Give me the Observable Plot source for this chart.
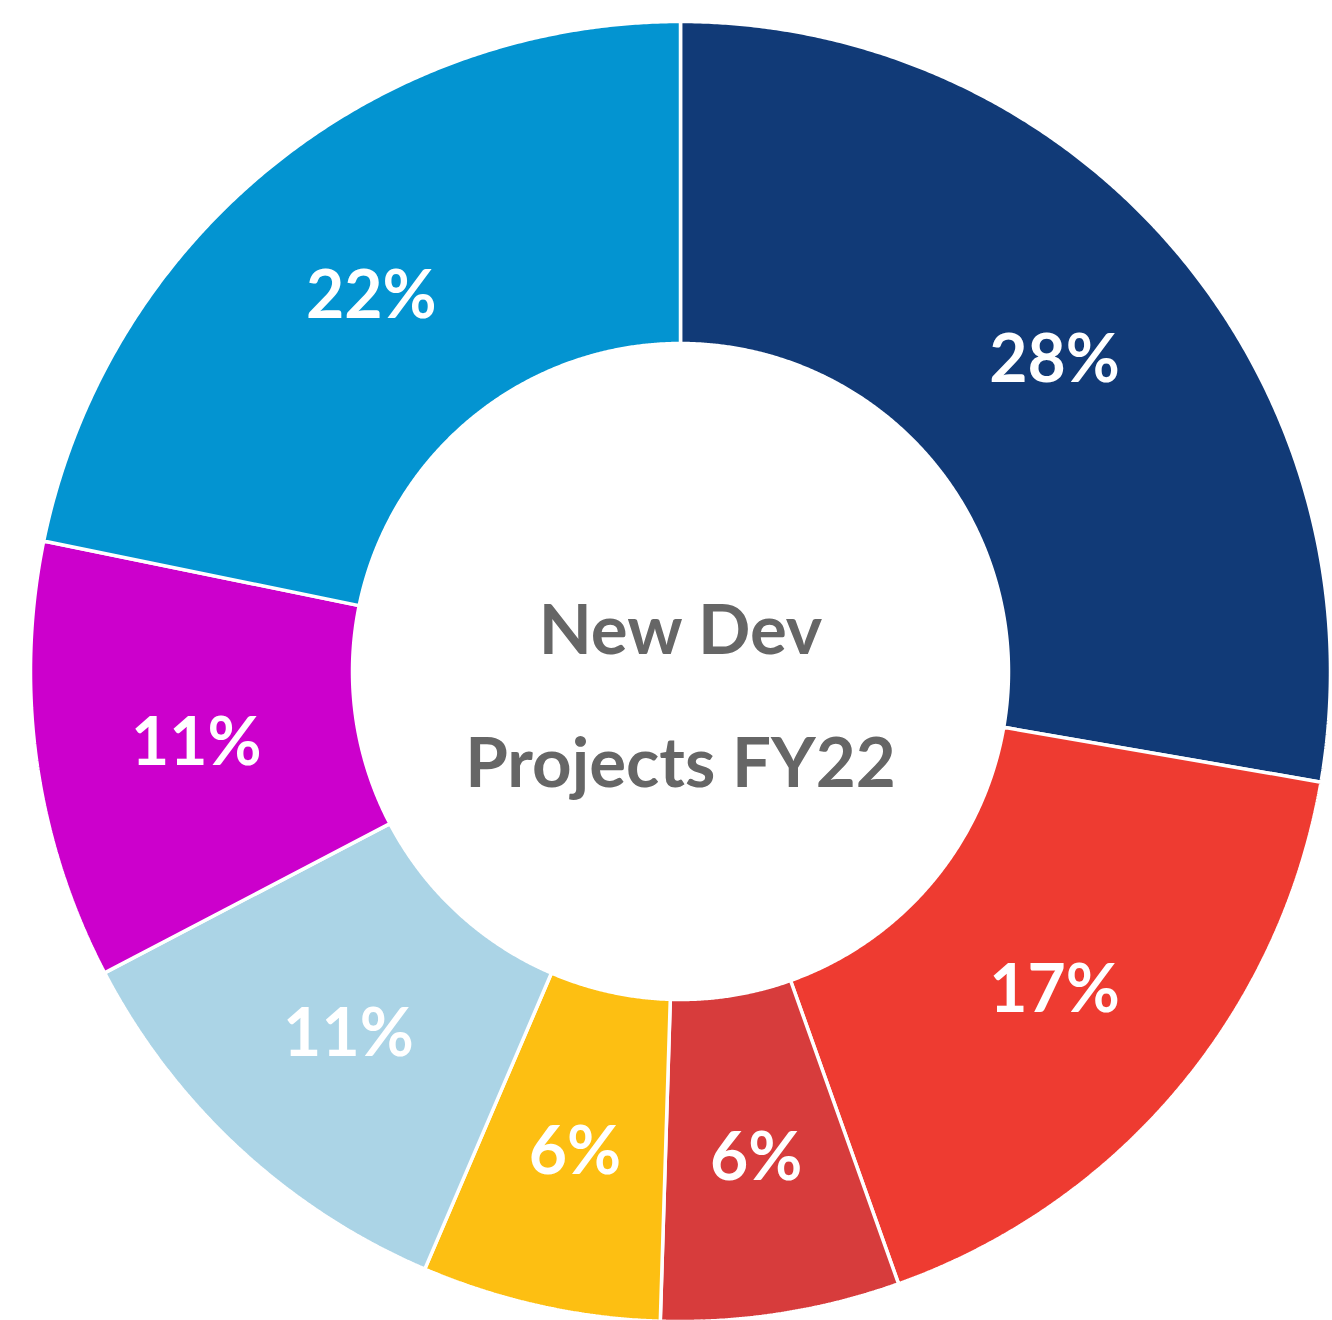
<!DOCTYPE html>
<html>
<head>
<meta charset="utf-8">
<script src="https://cdn.jsdelivr.net/npm/d3@7"></script>
<script src="https://cdn.jsdelivr.net/npm/@observablehq/plot@0.6"></script>
<style>
  html, body { margin: 0; padding: 0; background: #fff; overflow: hidden; }
  #chart svg { display: block; }
</style>
</head>
<body>
<div id="chart"></div>
<script>
// Slices, clockwise from 12 o'clock
const categories = ["A", "B", "C", "D", "E", "F", "G"];
const shares = [28, 17, 6, 6, 11, 11, 22];
const colors = ["#113A77", "#EE3B31", "#D73C3C", "#FDBF12", "#ABD4E6", "#CC00CC", "#0394D1"];
const centerLines = ["New Dev", "Projects FY22"];

const innerRatio = 328 / 650;
const labelR = (1 + innerRatio) / 2;

const pie = d3.pie().sort(null).value(d => d.share)(
  categories.map((c, i) => ({name: c, share: shares[i]}))
);

function pt(a, r) { return [Math.sin(a) * r, -Math.cos(a) * r]; }

const slices = pie.map(p => {
  const n = Math.max(8, Math.ceil((p.endAngle - p.startAngle) / (Math.PI / 720)));
  const ring = [];
  for (let k = 0; k <= n; k++) ring.push(pt(p.startAngle + (p.endAngle - p.startAngle) * k / n, 1));
  for (let k = n; k >= 0; k--) ring.push(pt(p.startAngle + (p.endAngle - p.startAngle) * k / n, innerRatio));
  ring.push(ring[0]);
  return {type: "Feature", properties: {name: p.data.name, share: p.data.share}, geometry: {type: "Polygon", coordinates: [ring]}};
});

const labels = pie.map(p => {
  const m = (p.startAngle + p.endAngle) / 2;
  const [x, y] = pt(m, labelR);
  return {x, y, text: `${p.data.share}%`};
});

const plot = Plot.plot({
  width: 1332,
  height: 1322,
  marginTop: 21,
  marginLeft: 30,
  marginRight: 2,
  marginBottom: 1,
  projection: {type: "identity", domain: {type: "MultiPoint", coordinates: [[-1, -1], [1, 1]]}},
  color: {domain: categories, range: colors},
  style: {fontFamily: "Lato, sans-serif", background: "#fff"},
  marks: [
    Plot.geo(slices, {fill: d => d.properties.name, stroke: "#fff", strokeWidth: 3.5, strokeLinejoin: "miter"}),
    Plot.text(labels, {x: "x", y: "y", text: "text", dy: 4, fill: "#fff", fontSize: 66, fontWeight: "bold"}),
    Plot.text([{x: 0, y: 0, t: centerLines[0]}], {x: "x", y: "y", text: "t", dy: -40, fill: "#666666", fontSize: 69, fontWeight: "bold"}),
    Plot.text([{x: 0, y: 0, t: centerLines[1]}], {x: "x", y: "y", text: "t", dy: 93, fill: "#666666", fontSize: 69, fontWeight: "bold"})
  ]
});
document.getElementById("chart").append(plot);
</script>
</body>
</html>
